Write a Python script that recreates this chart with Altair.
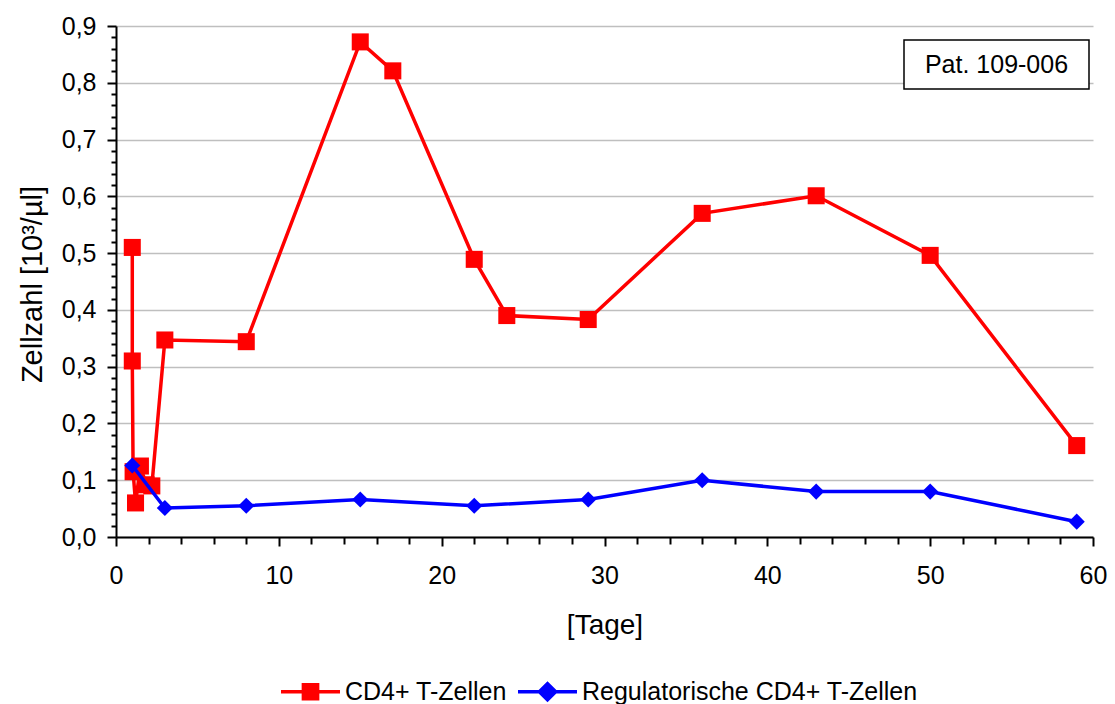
import altair as alt
import pandas as pd

# ---- data ----
cd4_days = [1, 1, 1.05, 1.2, 1.5, 1.85, 2.2, 3, 8, 15, 17, 22, 24, 29, 36, 43, 50, 59]
cd4_vals = [0.51, 0.31, 0.115, 0.06, 0.125, 0.092, 0.09, 0.347, 0.344, 0.872, 0.821,
            0.489, 0.39, 0.383, 0.57, 0.601, 0.496, 0.161]
treg_days = [1, 3, 8, 15, 22, 29, 36, 43, 50, 59]
treg_vals = [0.126, 0.051, 0.055, 0.066, 0.055, 0.066, 0.1, 0.08, 0.08, 0.027]
series_names = ["CD4+ T-Zellen", "Regulatorische CD4+ T-Zellen"]
series_colors = ["#FF0000", "#0000FF"]
box_label = ["Pat. 109-006"]
x_ticks = list(range(0, 61, 2))
y_ticks = [round(i * 0.02, 2) for i in range(46)]

FONT = "Liberation Sans"

cd4 = pd.DataFrame({"Tag": cd4_days, "Wert": cd4_vals, "Serie": series_names[0],
                    "idx": range(len(cd4_days))})
treg = pd.DataFrame({"Tag": treg_days, "Wert": treg_vals, "Serie": series_names[1],
                     "idx": range(len(treg_days))})
both = pd.concat([cd4, treg], ignore_index=True)

x_scale = alt.Scale(domain=[0, 60], nice=False, zero=False)
y_scale = alt.Scale(domain=[0, 0.9], nice=False)

major_y = "abs(round(datum.value*10) - datum.value*10) < 0.001"

x_axis = alt.Axis(
    values=x_ticks,
    labelExpr="datum.value % 10 === 0 ? datum.label : ''",
    tickSize={"condition": {"test": "datum.value % 10 === 0", "value": 9}, "value": 7},
    grid=False, labelFontSize=25, labelPadding=17, labelFont=FONT, labelColor="black",
    labelFlush=False, labelOverlap=False,
    domainColor="black", domainWidth=2, tickColor="black", tickWidth=2,
    title="[Tage]", titleFont=FONT, titleFontSize=28, titleFontWeight="normal",
    titleColor="black", titleX=488.5, titleY=88, titleBaseline="middle", titleAlign="center",
)
y_axis = alt.Axis(
    values=y_ticks,
    labelExpr=major_y + " ? replace(format(datum.value, '.1f'), '.', ',') : ''",
    tickSize={"condition": {"test": major_y, "value": 9}, "value": 5},
    grid=True,
    gridOpacity={"condition": {"test": major_y, "value": 1}, "value": 0},
    gridColor="#BFBFBF", gridWidth=1.5,
    labelFontSize=25, labelPadding=11, labelFont=FONT, labelColor="black",
    labelFlush=False, labelOverlap=False,
    domainColor="black", domainWidth=2, tickColor="black", tickWidth=2,
    title="Zellzahl [10³/µl]", titleFont=FONT, titleFontSize=29, titleFontWeight="normal",
    titleColor="black", titleX=-84, titleY=258, titleAngle=270,
    titleBaseline="middle", titleAlign="center",
)

X = alt.X("Tag:Q", scale=x_scale, axis=x_axis)
Y = alt.Y("Wert:Q", scale=y_scale, axis=y_axis)

sq_path = "M-1,-0.06H1V0.06H-1Z M-0.3,-0.3H0.3V0.3H-0.3Z"
dia_path = "M-1,-0.06H1V0.06H-1Z M0,-0.36L0.36,0L0,0.36L-0.36,0Z"

legend = alt.Legend(
    title=None, orient="none", direction="horizontal", legendX=165, legendY=636,
    symbolSize=3481, symbolStrokeWidth=0, symbolOpacity=1,
    labelFont=FONT, labelFontSize=25, labelColor="black", labelOffset=5,
    columnPadding=11, padding=0, labelLimit=500,
)

legend_layer = alt.Chart(both).mark_point(filled=True, opacity=0, size=1).encode(
    x=X, y=Y,
    color=alt.Color("Serie:N", scale=alt.Scale(domain=series_names, range=series_colors),
                    legend=legend),
    shape=alt.Shape("Serie:N", scale=alt.Scale(domain=series_names, range=[sq_path, dia_path]),
                    legend=legend),
)

red_line = alt.Chart(cd4).mark_line(color="#FF0000", strokeWidth=3.5).encode(
    x=X, y=Y, order="idx:Q")
red_pts = alt.Chart(cd4).mark_point(shape="square", filled=True, color="#FF0000",
                                    size=290, opacity=1).encode(x=X, y=Y)
blue_line = alt.Chart(treg).mark_line(color="#0000FF", strokeWidth=3.5).encode(
    x=X, y=Y, order="idx:Q")
blue_pts = alt.Chart(treg).mark_point(shape="diamond", filled=True, color="#0000FF",
                                      size=260, opacity=1).encode(x=X, y=Y)

box_df = pd.DataFrame({"label": box_label})
box = alt.Chart(box_df).mark_rect(fill="white", stroke="black", strokeWidth=1.5).encode(
    x=alt.value(788), x2=alt.value(973), y=alt.value(14), y2=alt.value(63))
box_text = alt.Chart(box_df).mark_text(font=FONT, fontSize=25, color="black",
                                       align="center", baseline="middle").encode(
    x=alt.value(880.5), y=alt.value(39), text="label:N")

chart = alt.layer(
    legend_layer, red_line, red_pts, blue_line, blue_pts, box, box_text
).properties(
    width=977, height=511,
    autosize=alt.AutoSizeParams(type="none"),
    padding={"left": 116, "top": 26, "right": 22, "bottom": 167},
    background="white",
).configure_view(stroke=None)

chart.save("out.html", embed_options={"renderer": "svg", "actions": False})
